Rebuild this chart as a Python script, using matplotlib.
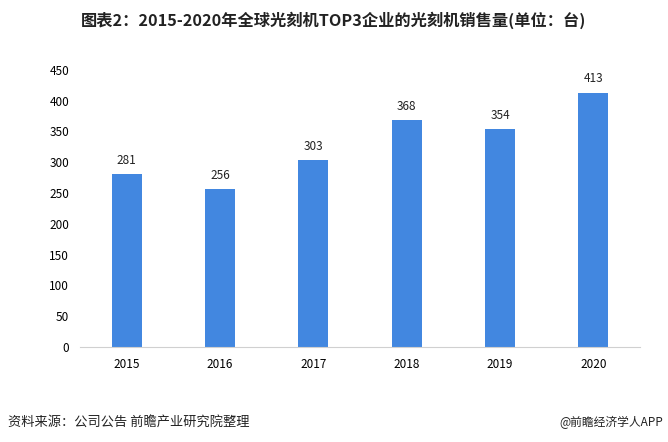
import matplotlib.pyplot as plt

plt.rcParams['font.family'] = ['Noto Sans CJK SC', 'DejaVu Sans']

years = ['2015', '2016', '2017', '2018', '2019', '2020']
sales = [281, 256, 303, 368, 354, 413]
yticks = [0, 50, 100, 150, 200, 250, 300, 350, 400, 450]

fig = plt.figure(figsize=(6.68, 4.42), dpi=100)
ax = fig.add_axes([0.12, 0.215, 0.838, 0.627])

x = range(len(years))
ax.bar(x, sales, width=0.32, color='#4287E0')
for xi, v in zip(x, sales):
    ax.text(xi, v + 12, str(v), ha='center', va='bottom', fontsize=8.5, color='#222222')

ax.set_xlim(-0.5, len(years) - 0.5)
ax.set_ylim(0, 450)
ax.set_yticks(yticks)
ax.set_xticks(list(x))
ax.set_xticklabels(years, fontsize=8.5)
ax.tick_params(axis='y', labelsize=8.5, length=0, pad=8)
ax.tick_params(axis='x', length=0, pad=8)

for s in ['top', 'right', 'left']:
    ax.spines[s].set_visible(False)
ax.spines['bottom'].set_color('#d0d0d0')

fig.text(0.5, 0.955, '图表2：2015-2020年全球光刻机TOP3企业的光刻机销售量(单位：台)',
         ha='center', va='center', fontsize=11.7, fontweight='bold', color='#222222')
fig.text(0.012, 0.045, '资料来源：公司公告 前瞻产业研究院整理', ha='left', va='center',
         fontsize=9.5, color='#222222')
fig.text(0.993, 0.045, '@前瞻经济学人APP', ha='right', va='center',
         fontsize=8.5, color='#222222')

fig.savefig('out.png', dpi=100)
